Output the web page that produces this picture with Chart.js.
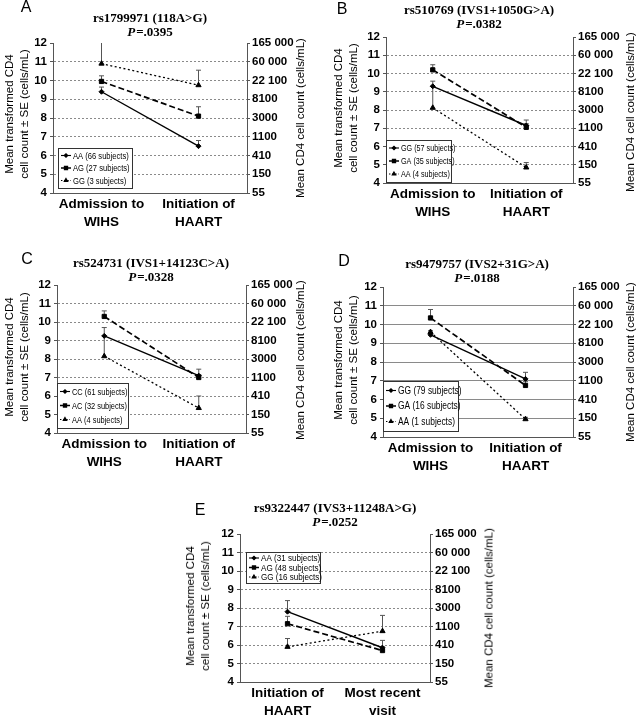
<!DOCTYPE html>
<html><head><meta charset="utf-8">
<script src="https://cdn.jsdelivr.net/npm/chart.js@4/dist/chart.umd.min.js"></script>
<style>
body{margin:0;background:#fff;}
#wrap{position:relative;width:637px;height:719px;overflow:hidden;background:#fff;}
canvas{position:absolute;left:0;top:0;}
.t{position:absolute;transform:translate(-50%,-50%);white-space:nowrap;color:#000;}
.letter{font:16px 'Liberation Sans',Arial,sans-serif;}
.title{font:bold 13px 'Liberation Serif','Times New Roman',serif;}
.ax{font:11.5px 'Liberation Sans',Arial,sans-serif;line-height:15px;text-align:center;}
.rot{transform:translate(-50%,-50%) rotate(-90deg);}
</style></head><body><div id="wrap"></div>
<script>
// ---------------- DATA ----------------
const catsWihs  = [['Admission to','WIHS'],['Initiation of','HAART']];
const catsHaart = [['Initiation of','HAART'],['Most recent','visit']];
const rightTickLabels = ['55','150','410','1100','3000','8100','22 100','60 000','165 000'];

const titleA = 'rs1799971 (118A>G)', pA = '.0395';
const namesA = ['AA (66 subjects)','AG (27 subjects)','GG (3 subjects)'];
const a1 = [9.4, 6.5],   a1se = [0.25, 0.3];
const a2 = [9.95, 8.1],  a2se = [0.3, 0.5];
const a3 = [10.9, 9.75], a3se = [1.15, 0.8];

const titleB = 'rs510769 (IVS1+1050G>A)', pB = '.0382';
const namesB = ['GG (57 subjects)','GA (35 subjects)','AA (4 subjects)'];
const b1 = [9.3, 7.15],  b1se = [0.28, 0.3];
const b2 = [10.2, 7.05], b2se = [0.28, 0.2];
const b3 = [8.12, 4.85], b3se = [1.18, 0.27];

const titleC = 'rs524731 (IVS1+14123C>A)', pC = '.0328';
const namesC = ['CC (61 subjects)','AC (32 subjects)','AA (4 subjects)'];
const c1 = [9.25, 7.1],  c1se = [0.45, 0.35];
const c2 = [10.3, 7.0],  c2se = [0.3, 0.15];
const c3 = [8.15, 5.35], c3se = [1.1, 0.65];

const titleD = 'rs9479757 (IVS2+31G>A)', pD = '.0188';
const namesD = ['GG (79 subjects)','GA (16 subjects)','AA (1 subjects)'];
const d1 = [9.45, 7.1],  d1se = [0.22, 0.35];
const d2 = [10.35, 6.75],d2se = [0.45, 0.2];
const d3 = [9.6, 4.95],  d3se = [0, 0.1];

const titleE = 'rs9322447 (IVS3+11248A>G)', pE = '.0252';
const namesE = ['AA (31 subjects)','AG (48 subjects)','GG (16 subjects)'];
const e1 = [7.8, 5.85],  e1se = [0.6, 0.4];
const e2 = [7.15, 5.7],  e2se = [0.4, 0.2];
const e3 = [5.9, 6.75],  e3se = [0.45, 0.85];

// ---------------- STYLE / LAYOUT ----------------
const seriesStyle = [
  {dash:[], style:'rectRot', r:2.5, w:1.4},
  {dash:[6,3], style:'rect', r:3, w:1.7},
  {dash:[2,2.5], style:'triangle', r:3, w:1.3}
];
const panels = [
  {letter:'A', lx:26, ly:7, title:titleA, p:pA, tx:150, ty:18, area:{L:53,T:43,R:247,B:193}, cats:catsWihs, names:namesA,
   vals:[a1,a2,a3], ses:[a1se,a2se,a3se], gridDash:[2,2], ytl:{x:16.5,y:114}, ytr:{x:300,y:118},
   legend:{dx:5, dy:5, w:74, h:40, fromTop:false, font:9.5, sx:0.8, row:12.5}},
  {letter:'B', lx:342, ly:9, title:titleB, p:pB, tx:479, ty:10, area:{L:386,T:37,R:573,B:183}, cats:catsWihs, names:namesB,
   vals:[b1,b2,b3], ses:[b1se,b2se,b3se], gridDash:[2,2], ytl:{x:345.5,y:108}, ytr:{x:630,y:112},
   legend:{dx:0, dy:1, w:65, h:42, fromTop:false, font:9, sx:0.8, row:13}},
  {letter:'C', lx:27, ly:259, title:titleC, p:pC, tx:151, ty:263, area:{L:57,T:285,R:246,B:433}, cats:catsWihs, names:namesC,
   vals:[c1,c2,c3], ses:[c1se,c2se,c3se], gridDash:[2,2], ytl:{x:17,y:357}, ytr:{x:300,y:360},
   legend:{dx:0, dy:5, w:71, h:45, fromTop:false, font:9.3, sx:0.8, row:14}},
  {letter:'D', lx:344, ly:261, title:titleD, p:pD, tx:477, ty:264, area:{L:383,T:287,R:573,B:437}, cats:catsWihs, names:namesD,
   vals:[d1,d2,d3], ses:[d1se,d2se,d3se], gridDash:[], ytl:{x:345.5,y:360}, ytr:{x:630,y:362},
   legend:{dx:0, dy:6, w:75, h:50, fromTop:false, font:10.5, sx:0.8, row:15.5}},
  {letter:'E', lx:200, ly:510, title:titleE, p:pE, tx:335, ty:508, area:{L:240,T:534,R:430,B:682}, cats:catsHaart, names:namesE,
   vals:[e1,e2,e3], ses:[e1se,e2se,e3se], gridDash:[2,2], ytl:{x:198,y:606}, ytr:{x:489,y:608},
   legend:{dx:6, dy:18, w:74, h:31, fromTop:true, font:9.5, sx:0.85, row:9.5}}
];

const W = 637, H = 719, WL = 30, WR = 50, HX = 45;
const FAM = "'Liberation Sans',Arial,sans-serif";
const tickFont = {family:FAM, weight:'bold', size:11.5};
const catFont  = {family:FAM, weight:'bold', size:13.5, lineHeight:1.3};

const boxLegend = {
  id:'boxLegend',
  afterDraw(chart, args, o){
    if(!o || !o.items) return;
    const ctx = chart.ctx, a = chart.chartArea;
    const x = Math.round(a.left + o.dx), y = Math.round(o.fromTop ? a.top + o.dy : a.bottom - o.dy - o.h);
    ctx.save();
    ctx.fillStyle = '#fff'; ctx.fillRect(x, y, o.w, o.h);
    ctx.strokeStyle = '#333'; ctx.lineWidth = 1; ctx.strokeRect(x+0.5, y+0.5, o.w, o.h);
    const pad = (o.h - o.row*o.items.length)/2;
    o.items.forEach((it, i) => {
      const cy = y + pad + o.row*(i+0.5);
      ctx.setLineDash(it.dash.map(d=>d*0.7)); ctx.lineWidth = it.w*0.8; ctx.strokeStyle = '#000';
      ctx.beginPath(); ctx.moveTo(x+3, cy); ctx.lineTo(x+13, cy); ctx.stroke();
      ctx.setLineDash([]);
      ctx.fillStyle = '#000';
      Chart.helpers.drawPoint(ctx, {pointStyle:it.style, radius:it.r*0.7, borderWidth:1, rotation:0}, x+8, cy);
      ctx.save();
      ctx.translate(x+15, cy+0.5);
      ctx.scale(o.sx, 1);
      ctx.fillStyle = '#000';
      ctx.font = o.font + "px " + FAM;
      ctx.textBaseline = 'middle'; ctx.textAlign = 'left';
      ctx.fillText(it.text, 0, 0);
      ctx.restore();
    });
    ctx.restore();
  }
};

const wrap = document.getElementById('wrap');
let html = '';
panels.forEach(p => {
  html += `<div class="t letter" style="left:${p.lx}px;top:${p.ly}px">${p.letter}</div>`;
  html += `<div class="t title" style="left:${p.tx}px;top:${p.ty}px">${p.title.replace('>','&gt;')}</div>`;
  html += `<div class="t title" style="left:${p.tx}px;top:${p.ty+13.5}px"><i>P</i>&#8202;=${p.p}</div>`;
  html += `<div class="t ax rot" style="left:${p.ytl.x}px;top:${p.ytl.y}px">Mean transformed CD4<br>cell count ± SE (cells/mL)</div>`;
  html += `<div class="t ax rot" style="left:${p.ytr.x}px;top:${p.ytr.y}px">Mean CD4 cell count (cells/mL)</div>`;
});
wrap.innerHTML = html;

panels.forEach(p => {
  const cv = document.createElement('canvas');
  cv.width = W; cv.height = H; cv.style.width = W+'px'; cv.style.height = H+'px';
  wrap.insertBefore(cv, wrap.firstChild);
  const datasets = [];
  p.vals.forEach((v, i) => {
    const s = seriesStyle[i];
    datasets.push({label:p.names[i], data:v, xAxisID:'x', borderColor:'#000', backgroundColor:'#000', borderWidth:s.w,
      borderDash:s.dash, pointStyle:s.style, pointRadius:s.r, pointBackgroundColor:'#000', pointBorderColor:'#000',
      pointBorderWidth:1, tension:0, order:1});
    v.forEach((val, j) => {
      const se = p.ses[i][j];
      if(!se) return;
      datasets.push({label:'se', xAxisID:'xe', data:[{x:j, y:val},{x:j, y:val+se}], borderColor:'#555', borderWidth:1,
        pointRadius:[0,2.5], pointStyle:'line', pointBorderColor:'#555', pointBorderWidth:1, order:5});
    });
  });
  const a = p.area;
  new Chart(cv, {
    type:'line',
    data:{labels:p.cats, datasets},
    plugins:[boxLegend],
    options:{
      responsive:false, animation:false, devicePixelRatio:1,
      layout:{padding:{left:a.L-WL, right:W-a.R-WR, top:a.T, bottom:H-HX-a.B}},
      plugins:{legend:{display:false}, tooltip:{enabled:false},
        boxLegend:{...p.legend, items:p.names.map((n,i)=>({text:n, ...seriesStyle[i]}))}},
      scales:{
        x:{type:'category', offset:true,
           grid:{display:false, drawTicks:false},
           border:{display:true, color:'#555', width:1},
           ticks:{color:'#000', font:catFont, padding:3, maxRotation:0, autoSkip:false},
           afterFit(s){ s.height = HX; }},
        xe:{type:'linear', display:false, min:-0.5, max:1.5},
        y:{position:'left', min:4, max:12,
           grid:{color:(c)=> (c.tick && c.tick.value===12) ? 'rgba(0,0,0,0)' : '#8a8a8a', lineWidth:1, tickLength:3, tickColor:'#555'},
           border:{display:true, color:'#555', width:1, dash:p.gridDash},
           ticks:{stepSize:1, color:'#000', font:tickFont, padding:3},
           afterFit(s){ s.width = WL; }},
        y2:{position:'right', min:4, max:12,
           grid:{drawOnChartArea:false, tickLength:3, color:'#555'},
           border:{display:true, color:'#555', width:1},
           ticks:{stepSize:1, color:'#000', font:tickFont, padding:2,
             callback:(v)=> rightTickLabels[Math.round(v)-4]},
           afterFit(s){ s.width = WR; }}
      }
    }
  });
});
</script></body></html>
